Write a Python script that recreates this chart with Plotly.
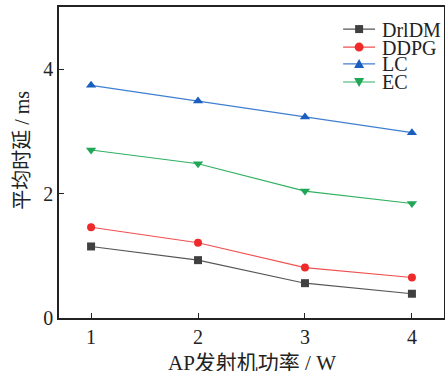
import plotly.graph_objects as go

x_vals = [1, 2, 3, 4]
drldm = [1.15, 0.93, 0.56, 0.39]
ddpg = [1.46, 1.21, 0.81, 0.65]
lc = [3.74, 3.49, 3.23, 2.98]
ec = [2.70, 2.48, 2.04, 1.84]
names = ["DrlDM", "DDPG", "LC", "EC"]
x_ticks = [1, 2, 3, 4]
y_ticks = [0, 2, 4]
x_title = "AP发射机功率 / W"
y_title = "平均时延 / ms"

series = [
    (names[0], drldm, "#404040", "#555555", "square", "M-4,-4 L4,-4 L4,4 L-4,4 Z"),
    (names[1], ddpg, "#ee2a2a", "#f05050", "circle", None),
    (names[2], lc, "#1a5fbf", "#3f7fd0", "triangle-up", "M-5,-4 L5,-4 L0,5 Z"),
    (names[3], ec, "#1fa656", "#30b060", "triangle-down", "M-5,4 L5,4 L0,-5 Z"),
]

font_fam = "Liberation Serif, Noto Sans CJK SC, serif"
fig = go.Figure()
shapes = []
annotations = []
leg_y = [0.929, 0.871, 0.817, 0.759]
for i, (name, ys, mc, lcol, sym, path) in enumerate(series):
    fig.add_trace(go.Scatter(
        x=x_vals, y=ys, name=name, mode="lines+markers",
        line=dict(color=lcol, width=1.1),
        marker=dict(symbol=sym, size=9 if "triangle" in sym else 8, color=mc, line=dict(width=0)),
        showlegend=False,
    ))
    # custom compact legend
    yy = leg_y[i]
    shapes.append(dict(type="line", xref="paper", yref="paper", x0=0.738, x1=0.821,
                       y0=yy, y1=yy, line=dict(color=lcol, width=1.1)))
    if path is None:
        shapes.append(dict(type="circle", xref="paper", yref="paper",
                           xsizemode="pixel", ysizemode="pixel", xanchor=0.7795, yanchor=yy,
                           x0=-4.5, x1=4.5, y0=-4.5, y1=4.5, fillcolor=mc, line=dict(width=0)))
    else:
        shapes.append(dict(type="path", xref="paper", yref="paper",
                           xsizemode="pixel", ysizemode="pixel", xanchor=0.7795, yanchor=yy,
                           path=path, fillcolor=mc, line=dict(width=0)))
    annotations.append(dict(text=name, xref="paper", yref="paper", x=0.834, y=yy,
                            xanchor="left", yanchor="middle", showarrow=False, height=17,
                            font=dict(family=font_fam, size=20, color="#222222")))

annotations.append(dict(text=x_title, xref="paper", yref="paper", x=0.5, y=-0.145,
                        xanchor="center", yanchor="middle", showarrow=False,
                        font=dict(family=font_fam, size=21, color="#222222")))
annotations.append(dict(text=y_title, xref="paper", yref="paper", x=-0.095, y=0.539,
                        xanchor="center", yanchor="middle", showarrow=False, textangle=-90,
                        font=dict(family=font_fam, size=20, color="#222222")))

fig.update_layout(
    width=445, height=371,
    margin=dict(l=59, r=1, t=7, b=53),
    plot_bgcolor="white", paper_bgcolor="white",
    font=dict(family=font_fam, size=20, color="#222222"),
    showlegend=False,
    shapes=shapes, annotations=annotations,
)
fig.update_xaxes(
    range=[0.7, 4.3], tickvals=x_ticks, ticktext=[str(t) for t in x_ticks],
    ticks="inside", ticklen=5, tickwidth=1.2, tickcolor="#222",
    showline=True, linecolor="#222", linewidth=1.5, mirror=True,
    showgrid=False, zeroline=False, automargin=False,
    tickfont=dict(size=20),
)
fig.update_yaxes(
    range=[0, 5], tickvals=y_ticks, ticktext=[str(t) for t in y_ticks],
    ticks="inside", ticklen=5, tickwidth=1.2, tickcolor="#222",
    showline=True, linecolor="#222", linewidth=1.5, mirror=True,
    showgrid=False, zeroline=False, automargin=False,
    tickfont=dict(size=20),
)
fig.write_html("out.html", config={"displayModeBar": False},
               post_script="document.body.style.margin='0';document.body.style.overflow='hidden';")
